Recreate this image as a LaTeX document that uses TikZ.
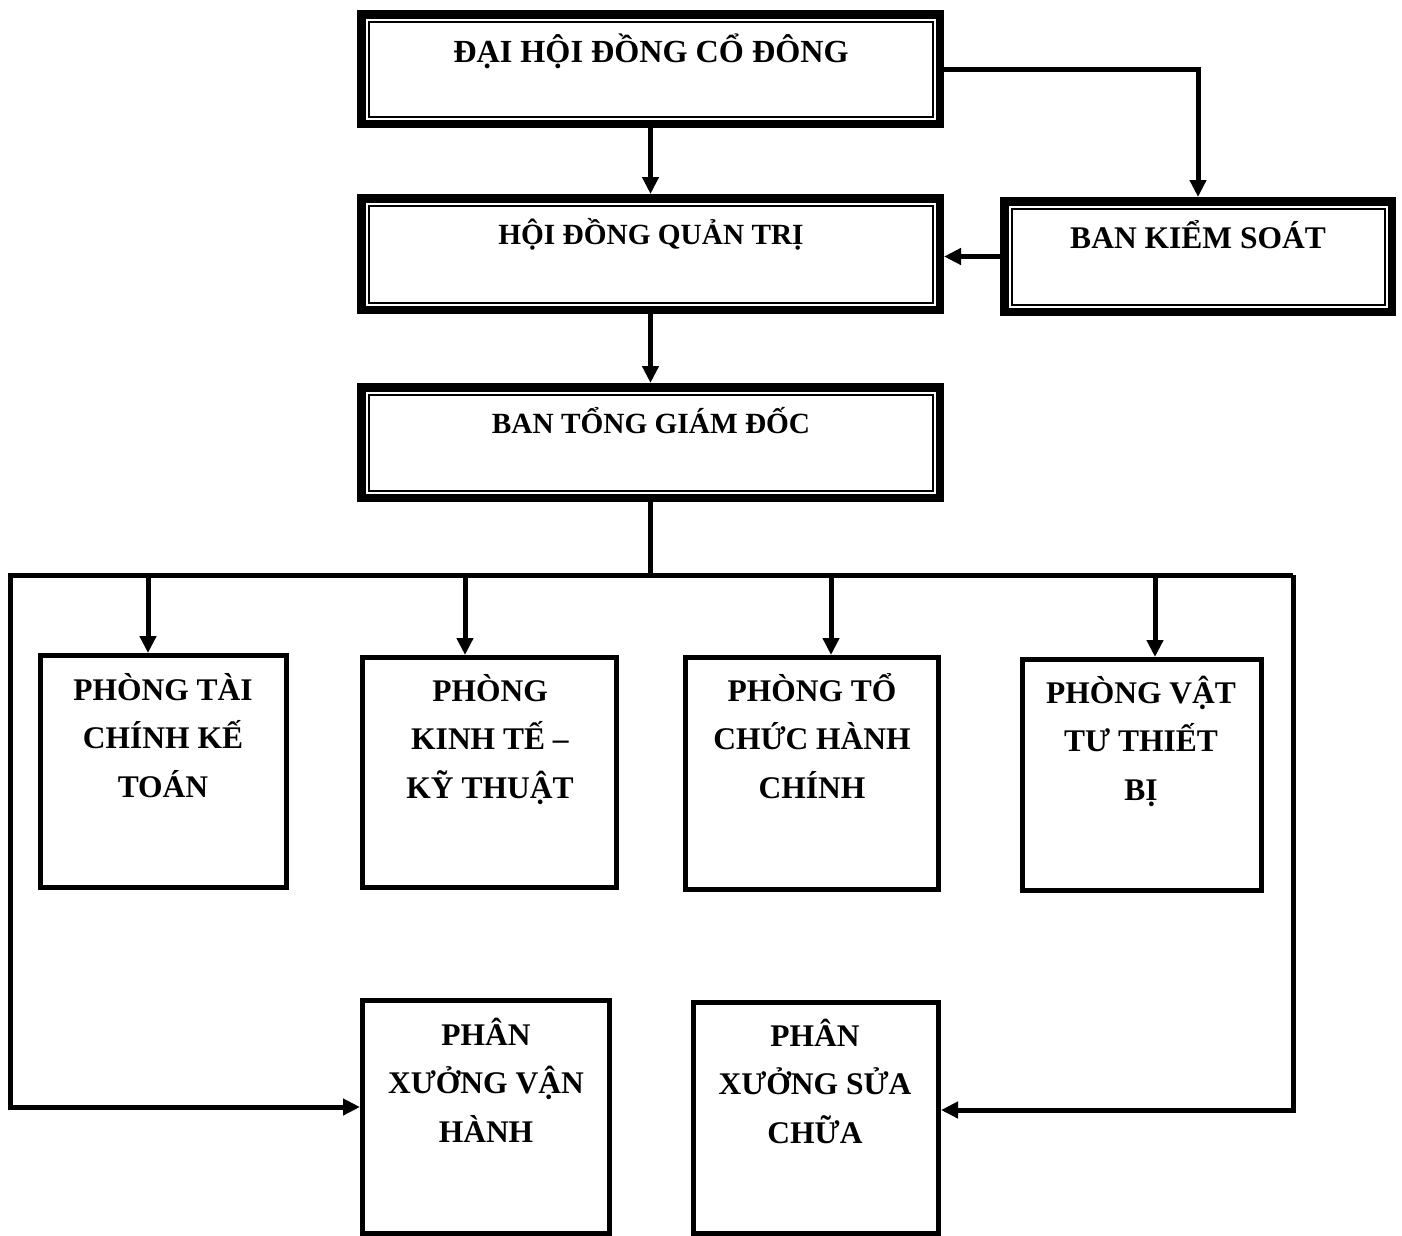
\documentclass[tikz,border=0pt]{standalone}
\usepackage{fontspec}
\setmainfont{Liberation Serif}
\usetikzlibrary{arrows.meta}
\begin{document}
\begin{tikzpicture}[x=1pt,y=-1pt,
  topbox/.style={draw, rectangle, line width=8.5pt, inner sep=0pt},
  lowbox/.style={draw, rectangle, line width=5pt, inner sep=0pt},
  thinline/.style={line width=2pt},
  conn/.style={line width=5pt},
  arr/.style={conn, -{Triangle[length=17pt,width=16pt]}},
  lbl/.style={font=\fontsize{31.5}{48.5}\selectfont\bfseries, align=center, anchor=base, inner sep=0pt},
  lblsmall/.style={lbl, font=\fontsize{29.3}{48.5}\selectfont\bfseries},
  lblbig/.style={lbl, font=\fontsize{32.2}{48.5}\selectfont\bfseries}]
\useasboundingbox (0,0) rectangle (1402,1235);
\fill[white] (0,0) rectangle (1402,1235);

% top boxes
\node[topbox, minimum width=578.5pt, minimum height=109.5pt] (dh) at (650.5,69) {};
\node[topbox, minimum width=578.5pt, minimum height=111.5pt] (hd) at (650.5,254) {};
\node[topbox, minimum width=387.5pt, minimum height=110.5pt] (bks) at (1198,256.5) {};
\node[topbox, minimum width=578.5pt, minimum height=110.5pt] (tg) at (650.5,442.5) {};
\foreach \n in {dh,hd,bks,tg}{
  \draw[thinline] ([shift={(11.5,11.5)}]\n.north west) rectangle ([shift={(-11.5,-11.5)}]\n.south east);
}

% lower boxes
\node[lowbox, minimum width=246pt, minimum height=232pt] (ptc) at (163.5,771.5) {};
\node[lowbox, minimum width=254pt, minimum height=230pt] (pkt) at (489.5,772.5) {};
\node[lowbox, minimum width=253pt, minimum height=232pt] (ptchc) at (812,773.5) {};
\node[lowbox, minimum width=239pt, minimum height=231pt] (pvt) at (1142,775) {};
\node[lowbox, minimum width=247pt, minimum height=233pt] (pxvh) at (486,1117) {};
\node[lowbox, minimum width=245pt, minimum height=231pt] (pxsc) at (816,1118) {};

% labels (base = last line's baseline)
\node[lblbig] (tdh) at (651,62) {ĐẠI HỘI ĐỒNG CỔ ĐÔNG};
\node[lblsmall] (thd) at (651,244) {HỘI ĐỒNG QUẢN TRỊ};
\node[lbl] (tbks) at (1198,248) {BAN KIỂM SOÁT};
\node[lblsmall] (ttg) at (651,433) {BAN TỔNG GIÁM ĐỐC};
\node[lbl] (tptc) at (163,797) {PHÒNG TÀI\\CHÍNH KẾ\\TOÁN};
\node[lbl] (tpkt) at (490,798) {PHÒNG\\KINH TẾ –\\KỸ THUẬT};
\node[lbl] (tptchc) at (812,798) {PHÒNG TỔ\\CHỨC HÀNH\\CHÍNH};
\node[lbl] (tpvt) at (1141,800) {PHÒNG VẬT\\TƯ THIẾT\\BỊ};
\node[lbl] (tpxvh) at (486,1142) {PHÂN\\XƯỞNG VẬN\\HÀNH};
\node[lbl] (tpxsc) at (815,1143) {PHÂN\\XƯỞNG SỬA\\CHỮA};

% connectors
\draw[arr] (dh.south) -- (hd.north);
\draw[arr] (dh.east) -| (bks.north);
\draw[arr] (bks.west) -- (bks.west -| hd.east);
\draw[arr] (hd.south) -- (tg.north);

\coordinate (j) at (650.5,575);
\coordinate (L) at (10.5,575);
\coordinate (R) at (1293,575);
\coordinate (LB) at (10.5,1107);
\coordinate (RB) at (1293,1110);
\coordinate (b1) at (148,575);
\coordinate (b2) at (465,575);
\coordinate (b3) at (831,575);
\coordinate (b4) at (1155,575);

\draw[conn] (tg.south) -- (j);
\draw[conn, line join=miter] ([xshift=-2.5pt]L) -- (R);
\draw[arr, line join=miter] (L) -- (LB) -- (LB -| pxvh.west);
\draw[arr, line join=miter] (R) -- (RB) -- (RB -| pxsc.east);
\draw[arr] (b1) -- (b1 |- ptc.north);
\draw[arr] (b2) -- (b2 |- pkt.north);
\draw[arr] (b3) -- (b3 |- ptchc.north);
\draw[arr] (b4) -- (b4 |- pvt.north);
\end{tikzpicture}
\end{document}
